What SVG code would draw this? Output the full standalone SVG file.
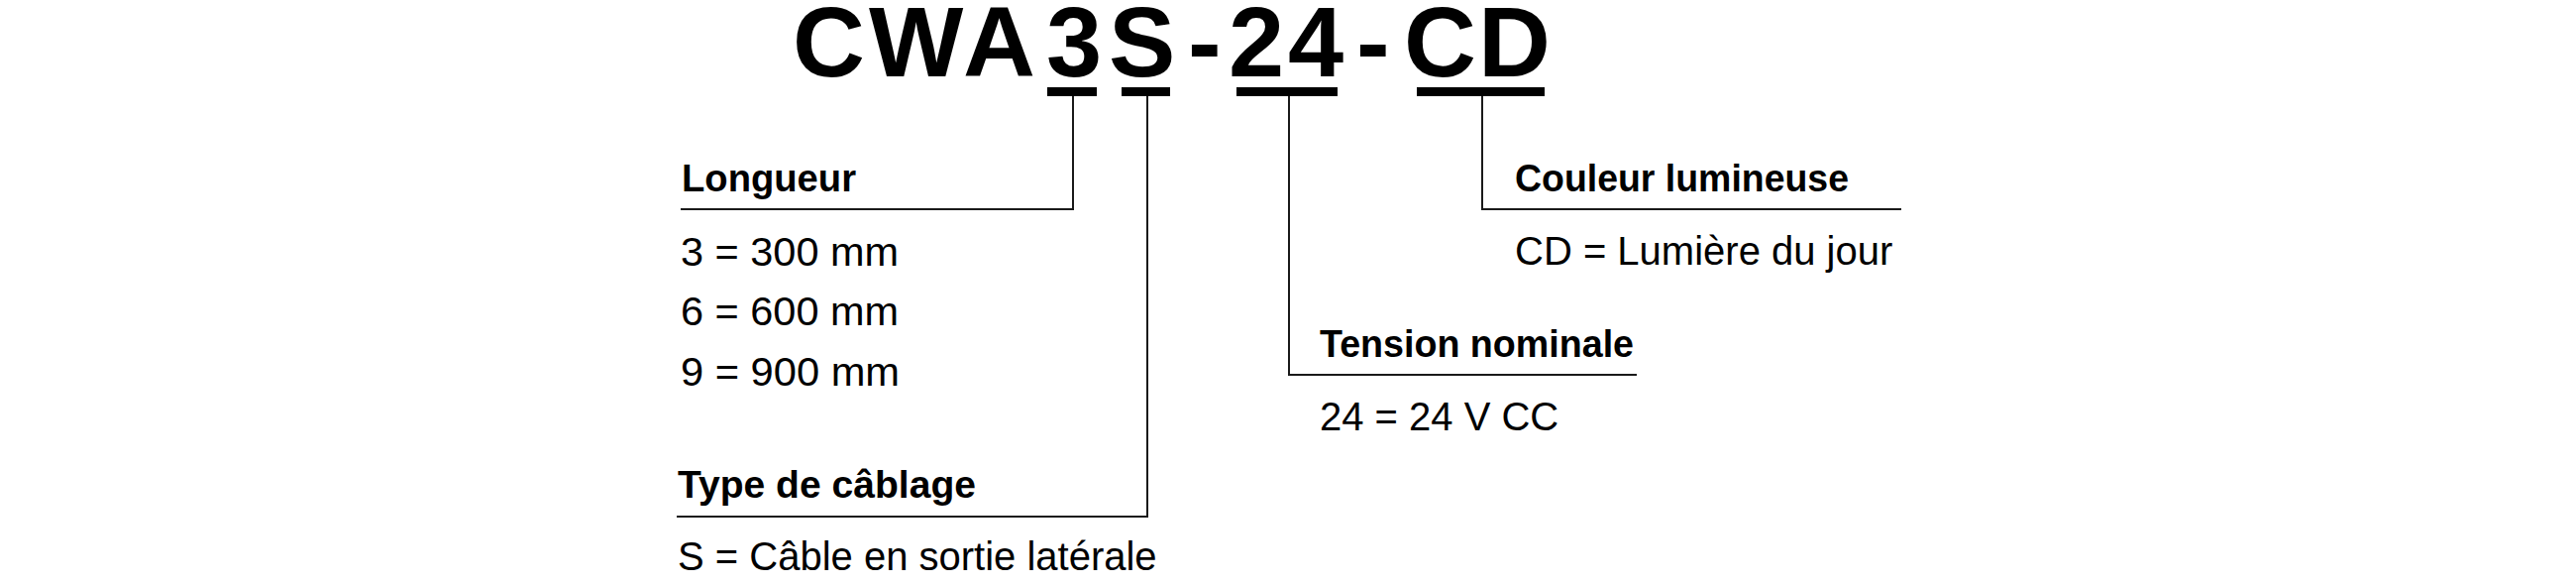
<svg xmlns="http://www.w3.org/2000/svg" width="2600" height="590" viewBox="0 0 2600 590">
<style>
.title{font-family:"Liberation Sans",Arial,sans-serif;font-weight:bold;font-size:101px;fill:#000}
.head{font-family:"Liberation Sans",Arial,sans-serif;font-weight:bold;font-size:38px;fill:#000}
.val{font-family:"Liberation Sans",Arial,sans-serif;font-size:40px;fill:#000}
.bar{fill:#000}
.ln{stroke:#1a1a1a;stroke-width:2;fill:none}
</style>
<rect width="2600" height="590" fill="#fff"/>
<g id="code">
<text class="title" x="800 877 972 1056 1119 1199 1240 1300 1369 1417 1492" y="77">CWA3S-24-CD</text>
<rect class="bar" x="1057" y="88" width="50" height="9"/>
<rect class="bar" x="1132" y="88" width="49" height="9"/>
<rect class="bar" x="1248" y="88" width="102" height="9"/>
<rect class="bar" x="1430" y="88" width="129" height="9"/>
</g>
<g id="connectors">
<path class="ln" d="M1083 97 V211 H687"/>
<path class="ln" d="M1158 97 V521 H683"/>
<path class="ln" d="M1301 97 V378 H1652"/>
<path class="ln" d="M1496 97 V211 H1919"/>
</g>
<g id="longueur">
<text class="head" x="688" y="193" textLength="176" lengthAdjust="spacingAndGlyphs">Longueur</text>
<text class="val" x="687" y="268" textLength="220" lengthAdjust="spacingAndGlyphs">3 = 300 mm</text>
<text class="val" x="687" y="328" textLength="220" lengthAdjust="spacingAndGlyphs">6 = 600 mm</text>
<text class="val" x="687" y="389" textLength="221" lengthAdjust="spacingAndGlyphs">9 = 900 mm</text>
</g>
<g id="cablage">
<text class="head" x="684" y="502" textLength="301" lengthAdjust="spacingAndGlyphs">Type de câblage</text>
<text class="val" x="684" y="575">S = Câble en sortie latérale</text>
</g>
<g id="tension">
<text class="head" x="1332" y="360" textLength="317" lengthAdjust="spacingAndGlyphs">Tension nominale</text>
<text class="val" x="1332" y="434">24 = 24 V CC</text>
</g>
<g id="couleur">
<text class="head" x="1529" y="193" textLength="337" lengthAdjust="spacingAndGlyphs">Couleur lumineuse</text>
<text class="val" x="1529" y="267">CD = Lumière du jour</text>
</g>
</svg>
